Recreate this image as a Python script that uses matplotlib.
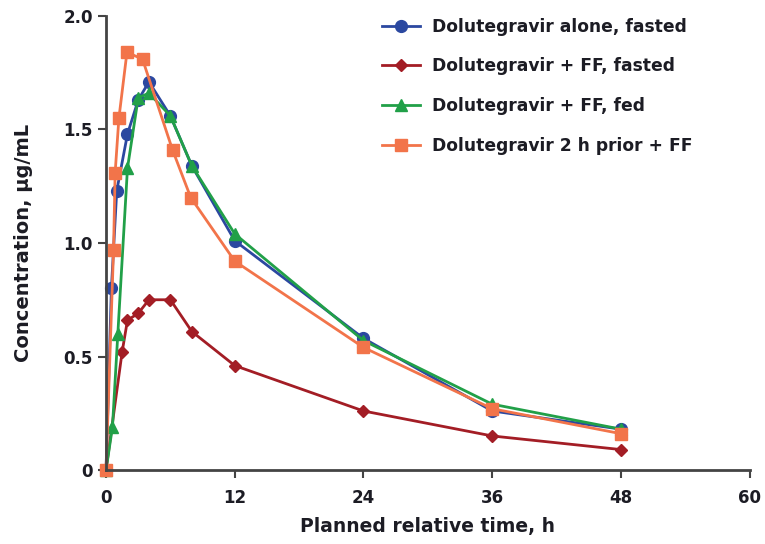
import numpy as np
import matplotlib.pyplot as plt

plt.rcParams['font.family'] = ['DejaVu Sans']
plt.rcParams['font.weight'] = 'bold'

# planned sampling times (h) and mean concentrations (ug/mL)
t_alone = [0, 0.5, 1, 2, 3, 4, 6, 8, 12, 24, 36, 48]
c_alone = [0, 0.80, 1.23, 1.48, 1.63, 1.71, 1.56, 1.34, 1.01, 0.58, 0.26, 0.18]

t_ff_fasted = [0, 1.5, 2, 3, 4, 6, 8, 12, 24, 36, 48]
c_ff_fasted = [0, 0.52, 0.66, 0.69, 0.75, 0.75, 0.61, 0.46, 0.26, 0.15, 0.09]

t_ff_fed = [0, 0.6, 1.1, 2, 3, 4, 6, 8, 12, 24, 36, 48]
c_ff_fed = [0, 0.19, 0.60, 1.33, 1.64, 1.66, 1.56, 1.34, 1.04, 0.57, 0.29, 0.18]

t_prior = [0, 0.7, 0.85, 1.2, 1.95, 3.4, 6.2, 7.9, 12, 24, 36, 48]
c_prior = [0, 0.97, 1.31, 1.55, 1.84, 1.81, 1.41, 1.20, 0.92, 0.54, 0.27, 0.16]

labels = ['Dolutegravir alone, fasted',
          'Dolutegravir + FF, fasted',
          'Dolutegravir + FF, fed',
          'Dolutegravir 2 h prior + FF']
colors = ['#2b48a0', '#a31d25', '#21a048', '#f2744a']
markers = ['o', 'D', '^', 's']
msizes = [8.5, 6.5, 8.5, 8.5]

txt_col = '#1c1c24'

fig = plt.figure(figsize=(7.65, 5.44), dpi=100)
ax = fig.add_axes([0.1386, 0.136, 0.8414, 0.8346])

series = [(t_alone, c_alone), (t_ff_fasted, c_ff_fasted),
          (t_ff_fed, c_ff_fed), (t_prior, c_prior)]
for (t, c), lab, col, m, ms in zip(series, labels, colors, markers, msizes):
    ax.plot(t, c, color=col, marker=m, markersize=ms, linewidth=2,
            label=lab, clip_on=False)

ax.set_xlim(0, 60)
ax.set_ylim(0, 2.0)
ax.set_xticks([0, 12, 24, 36, 48, 60])
ax.set_yticks([0, 0.5, 1.0, 1.5, 2.0])
ax.set_yticklabels(['0', '0.5', '1.0', '1.5', '2.0'])

for s in ['top', 'right']:
    ax.spines[s].set_visible(False)
for s in ['left', 'bottom']:
    ax.spines[s].set_color('#444444')
    ax.spines[s].set_linewidth(2)
ax.tick_params(direction='out', length=6, width=1.5, color='#444444',
               labelsize=12, labelcolor=txt_col)
ax.tick_params(axis='x', pad=8)

ax.set_xlabel('Planned relative time, h', fontsize=13.5, fontweight='bold',
              color=txt_col, labelpad=7)
ax.set_ylabel('Concentration, µg/mL', fontsize=14, fontweight='bold',
              color=txt_col, labelpad=22)

leg = ax.legend(loc='upper left', bbox_to_anchor=(0.405, 1.03),
                frameon=False, labelspacing=1.27,
                handlelength=2.2, handletextpad=0.7,
                prop={'weight': 'bold', 'size': 12.3})
for txt in leg.get_texts():
    txt.set_color(txt_col)

fig.savefig('out.png', dpi=100)
